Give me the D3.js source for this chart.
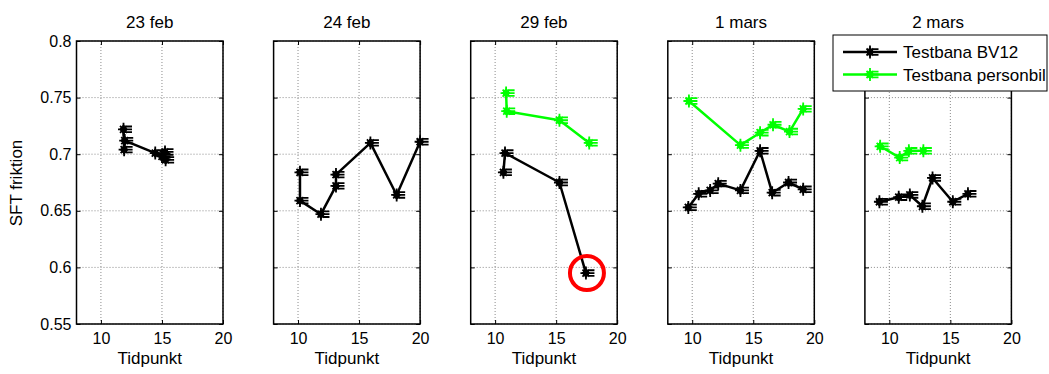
<!DOCTYPE html>
<html>
<head>
<meta charset="utf-8">
<script src="https://cdn.jsdelivr.net/npm/d3@7"></script>
<style>
  html, body { margin: 0; padding: 0; background: #fff; }
  svg { display: block; font-family: Arial, "Liberation Sans", sans-serif; }
</style>
</head>
<body>
<svg id="chart" width="1049" height="374"></svg>
<script>
// Mätdagar (one subplot per day)
const days = ["23 feb", "24 feb", "29 feb", "1 mars", "2 mars"];

// Testbana BV12: tidpunkt and SFT friktion per day
const bv12Tid = [
  [11.85, 11.9, 11.95, 14.45, 15.0, 15.25, 15.3],
  [10.16, 10.16, 11.88, 13.11, 13.11, 15.93, 18.08, 20.0],
  [10.68, 10.81, 15.27, 17.44],
  [9.68, 10.53, 11.47, 12.13, 13.95, 15.56, 16.55, 17.89, 19.09],
  [9.19, 10.77, 11.68, 12.71, 13.54, 15.2, 16.44]
];
const bv12Friktion = [
  [0.722, 0.704, 0.712, 0.701, 0.698, 0.702, 0.695],
  [0.684, 0.659, 0.647, 0.672, 0.682, 0.710, 0.664, 0.711],
  [0.684, 0.701, 0.675, 0.595],
  [0.653, 0.665, 0.668, 0.674, 0.668, 0.703, 0.666, 0.675, 0.669],
  [0.658, 0.662, 0.664, 0.654, 0.679, 0.658, 0.665]
];

// Testbana personbil: tidpunkt and SFT friktion per day
const personbilTid = [
  [],
  [],
  [10.9, 10.95, 15.27, 17.71],
  [9.73, 13.95, 15.56, 16.62, 17.97, 19.09],
  [9.25, 10.85, 11.6, 12.79]
];
const personbilFriktion = [
  [],
  [],
  [0.754, 0.738, 0.730, 0.710],
  [0.747, 0.708, 0.719, 0.726, 0.720, 0.740],
  [0.707, 0.697, 0.703, 0.703]
];

// Avvikande mätvärde (day index, point index in BV12)
const markedDay = [2];
const markedPoint = [3];

const seriesNames = ["Testbana BV12", "Testbana personbil"];
const seriesColors = ["#000000", "#00ff00"];

const xTicks = [10, 15, 20];
const xTickLabels = ["10", "15", "20"];
const yTicks = [0.55, 0.6, 0.65, 0.7, 0.75, 0.8];
const yTickLabels = ["0.55", "0.6", "0.65", "0.7", "0.75", "0.8"];

const svg = d3.select("#chart");
const plotTop = 41, plotBottom = 324;
const firstLeft = 76.5, panelStep = 197.1, panelW = 146.5;

const y = d3.scaleLinear().domain([0.55, 0.8]).range([plotBottom, plotTop]);

// star-like marker with short trailing strokes
const markerPath = "M0,-6.5V6.5M-5.5,0H8.5M1.5,-2.8H8.5M1.5,2.8H8.5M-3.5,-3.5L3.5,3.5M-3.5,3.5L3.5,-3.5";
const markerDiamond = "M0,-4.5L3.8,0L0,4.5L-3.8,0Z";

function drawMarker(g, cx, cy, color) {
  const m = g.append("g").attr("transform", `translate(${cx},${cy})`);
  m.append("path").attr("d", markerPath).attr("stroke", color)
    .attr("stroke-width", 1.8).attr("fill", "none");
  m.append("path").attr("d", markerDiamond).attr("fill", color)
    .attr("stroke", color).attr("stroke-width", 1);
}

days.forEach((day, i) => {
  const left = firstLeft + i * panelStep;
  const x = d3.scaleLinear().domain([8, 20]).range([left, left + panelW]);
  const g = svg.append("g");

  // white plot background
  g.append("rect").attr("x", left).attr("y", plotTop)
    .attr("width", panelW).attr("height", plotBottom - plotTop).attr("fill", "#fff");

  // dotted grid
  g.selectAll(".gx").data(xTicks).join("line")
    .attr("x1", d => x(d)).attr("x2", d => x(d))
    .attr("y1", plotTop).attr("y2", plotBottom)
    .attr("stroke", "#8c8c8c").attr("stroke-width", 1).attr("stroke-dasharray", "1,2");
  g.selectAll(".gy").data(yTicks).join("line")
    .attr("x1", left).attr("x2", left + panelW)
    .attr("y1", d => y(d)).attr("y2", d => y(d))
    .attr("stroke", "#8c8c8c").attr("stroke-width", 1).attr("stroke-dasharray", "1,2");

  // axes with inward ticks on all four sides
  const axB = d3.axisBottom(x).tickValues(xTicks).tickSize(-4).tickSizeOuter(0)
    .tickPadding(9).tickFormat((d, k) => xTickLabels[k]);
  const gB = g.append("g").attr("transform", `translate(0,${plotBottom})`).call(axB);
  const axT = d3.axisTop(x).tickValues(xTicks).tickSize(-4).tickSizeOuter(0).tickFormat("");
  const gT = g.append("g").attr("transform", `translate(0,${plotTop})`).call(axT);
  const axL = d3.axisLeft(y).tickValues(yTicks).tickSize(-4).tickSizeOuter(0)
    .tickPadding(5).tickFormat((d, k) => (i === 0 ? yTickLabels[k] : ""));
  const gL = g.append("g").attr("transform", `translate(${left},0)`).call(axL);
  const axR = d3.axisRight(y).tickValues(yTicks).tickSize(-4).tickSizeOuter(0).tickFormat("");
  const gR = g.append("g").attr("transform", `translate(${left + panelW},0)`).call(axR);

  [gB, gT, gL, gR].forEach(a => {
    a.select(".domain").remove();
    a.selectAll(".tick line").attr("stroke", "#000").attr("stroke-width", 1);
    a.selectAll("text").attr("fill", "#000").style("font-size", "16px")
      .style("font-family", "Arial, 'Liberation Sans', sans-serif");
  });

  // axes box
  g.append("rect").attr("x", left).attr("y", plotTop)
    .attr("width", panelW).attr("height", plotBottom - plotTop)
    .attr("fill", "none").attr("stroke", "#000").attr("stroke-width", 1.5);

  // subplot title and x label
  g.append("text").attr("x", left + panelW / 2).attr("y", 28)
    .attr("text-anchor", "middle").style("font-size", "17px").text(day);
  g.append("text").attr("x", left + panelW / 2).attr("y", 364)
    .attr("text-anchor", "middle").style("font-size", "17px").text("Tidpunkt");

  // series: personbil first, BV12 on top
  const series = [
    { tid: personbilTid[i], fr: personbilFriktion[i], color: seriesColors[1] },
    { tid: bv12Tid[i], fr: bv12Friktion[i], color: seriesColors[0] }
  ];
  series.forEach(s => {
    if (!s.tid.length) return;
    const pts = s.tid.map((t, k) => [t, s.fr[k]]);
    g.append("path").datum(pts)
      .attr("d", d3.line().x(d => x(d[0])).y(d => y(d[1])))
      .attr("fill", "none").attr("stroke", s.color)
      .attr("stroke-width", 2.5).attr("stroke-linejoin", "round");
    pts.forEach(p => drawMarker(g, x(p[0]), y(p[1]), s.color));
  });

  // ring around the deviating measurement
  markedDay.forEach((md, k) => {
    if (md !== i) return;
    const p = markedPoint[k];
    g.append("circle")
      .attr("cx", x(bv12Tid[i][p]) + 1).attr("cy", y(bv12Friktion[i][p]))
      .attr("r", 17).attr("fill", "none")
      .attr("stroke", "#ff0000").attr("stroke-width", 4);
  });
});

// y label
svg.append("text").attr("transform", "translate(22,183) rotate(-90)")
  .attr("text-anchor", "middle").style("font-size", "17px").text("SFT friktion");

// legend
const lg = svg.append("g");
lg.append("rect").attr("x", 833).attr("y", 35).attr("width", 214).attr("height", 56)
  .attr("fill", "#fff").attr("stroke", "#000").attr("stroke-width", 1);
seriesNames.forEach((name, k) => {
  const ly = 52 + k * 22.5;
  lg.append("line").attr("x1", 843).attr("x2", 897).attr("y1", ly).attr("y2", ly)
    .attr("stroke", seriesColors[k]).attr("stroke-width", 2.5);
  drawMarker(lg, 870, ly, seriesColors[k]);
  lg.append("text").attr("x", 903).attr("y", ly).attr("dy", "0.36em")
    .style("font-size", "17px").text(name);
});
</script>
</body>
</html>
